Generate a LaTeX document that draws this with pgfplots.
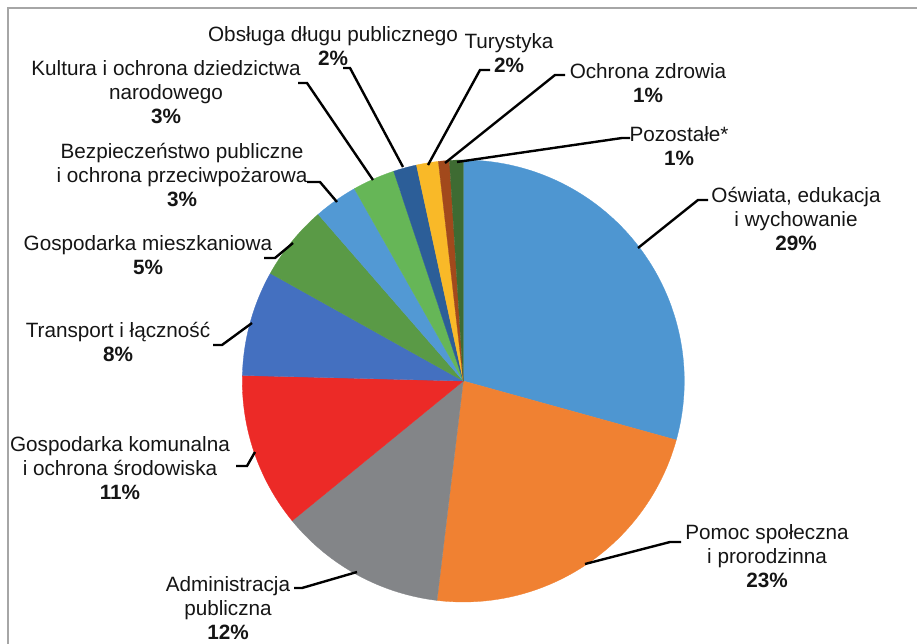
\documentclass[border=0pt]{standalone}
\usepackage{pgfplots}
\pgfplotsset{compat=1.18}
\usepackage{fontspec}
\setmainfont{Liberation Sans}
\definecolor{cOsw}{HTML}{4E96D1}
\definecolor{cPom}{HTML}{F08132}
\definecolor{cAdm}{HTML}{838588}
\definecolor{cKom}{HTML}{EC2A27}
\definecolor{cTra}{HTML}{4470C0}
\definecolor{cMie}{HTML}{5A9A46}
\definecolor{cBez}{HTML}{5299D4}
\definecolor{cKul}{HTML}{66B657}
\definecolor{cObs}{HTML}{2C5E98}
\definecolor{cTur}{HTML}{F9B928}
\definecolor{cZdr}{HTML}{A2491C}
\definecolor{cPoz}{HTML}{3E6B32}
\definecolor{txt}{HTML}{151515}
\definecolor{frame}{HTML}{A6A6A6}
% shares (%): Oswiata 29.3, Pomoc 22.6, Administracja 12.2, Komunalna 11.3,
% Transport 7.7, Mieszkaniowa 5.5, Bezpieczenstwo 3.2, Kultura 3.1,
% Obsluga dlugu 1.7, Turystyka 1.6, Ochrona zdrowia 0.8, Pozostale 1.0
% #1 = cumulative share at start, #2 = cumulative share at end (clockwise from top)
\newcommand\slice[3]{%
  \addplot[draw=#3, line width=0.3pt, fill=#3, domain={3.6*#1}:{3.6*#2}, samples=90, variable=\t]
    ({463.3+221*sin(\t)},{381-221*cos(\t)}) -- (axis cs:463.3,381) -- cycle;}
\newcommand\lbl{\fontsize{20.7}{24}\selectfont\color{txt}}
\begin{document}
\begin{tikzpicture}
\useasboundingbox (0,0) rectangle (917pt,644pt);
\begin{axis}[
  width=917pt, height=644pt, scale only axis,
  xmin=0, xmax=917, ymin=0, ymax=644, y dir=reverse,
  hide axis, clip=false]
\slice{0}{29.3}{cOsw}
\slice{29.3}{51.9}{cPom}
\slice{51.9}{64.1}{cAdm}
\slice{64.1}{75.4}{cKom}
\slice{75.4}{83.1}{cTra}
\slice{83.1}{88.6}{cMie}
\slice{88.6}{91.8}{cBez}
\slice{91.8}{94.9}{cKul}
\slice{94.9}{96.6}{cObs}
\slice{96.6}{98.2}{cTur}
\slice{98.2}{99.0}{cZdr}
\slice{99.0}{100}{cPoz}
% frame
\draw[frame, line width=1.5pt] (axis cs:8,644) -- (axis cs:8,8) -- (axis cs:917,8);
% leader lines
\begin{scope}[line width=2.4pt, black]
\draw (axis cs:638,248) -- (axis cs:698,200) -- (axis cs:708,200);
\draw (axis cs:585,564) -- (axis cs:670,542) -- (axis cs:681,542);
\draw (axis cs:357,572) -- (axis cs:302,588) -- (axis cs:294,588);
\draw (axis cs:255,452) -- (axis cs:247,466) -- (axis cs:236,466);
\draw (axis cs:252,323) -- (axis cs:222,345) -- (axis cs:213,345);
\draw (axis cs:293,243) -- (axis cs:275,258) -- (axis cs:264,258);
\draw (axis cs:337,202) -- (axis cs:320,182) -- (axis cs:307,182);
\draw (axis cs:373,180) -- (axis cs:307,83) -- (axis cs:298,83);
\draw (axis cs:403,167) -- (axis cs:350,68) -- (axis cs:343,68);
\draw (axis cs:428,165) -- (axis cs:480,70) -- (axis cs:490,70);
\draw (axis cs:445,163) -- (axis cs:555,75) -- (axis cs:565,75);
\draw (axis cs:457,162) -- (axis cs:622,138) -- (axis cs:630,138);
\end{scope}
% labels
\begin{scope}[every node/.style={align=center, font=\lbl, inner sep=0pt}]
\node at (axis cs:796,219) {Oświata, edukacja\\i wychowanie\\\textbf{29\%}};
\node at (axis cs:767,556) {Pomoc społeczna\\i prorodzinna\\\textbf{23\%}};
\node at (axis cs:228,608) {Administracja\\publiczna\\\textbf{12\%}};
\node at (axis cs:120,468) {Gospodarka komunalna\\i ochrona środowiska\\\textbf{11\%}};
\node at (axis cs:118,342) {Transport i łączność\\\textbf{8\%}};
\node at (axis cs:148,255) {Gospodarka mieszkaniowa\\\textbf{5\%}};
\node at (axis cs:182,175) {Bezpieczeństwo publiczne\\i ochrona przeciwpożarowa\\\textbf{3\%}};
\node at (axis cs:166,92) {Kultura i ochrona dziedzictwa\\narodowego\\\textbf{3\%}};
\node at (axis cs:333,46) {Obsługa długu publicznego\\\textbf{2\%}};
\node at (axis cs:509,53) {Turystyka\\\textbf{2\%}};
\node at (axis cs:648,83) {Ochrona zdrowia\\\textbf{1\%}};
\node at (axis cs:679,146) {Pozostałe*\\\textbf{1\%}};
\end{scope}
\end{axis}
\end{tikzpicture}
\end{document}
